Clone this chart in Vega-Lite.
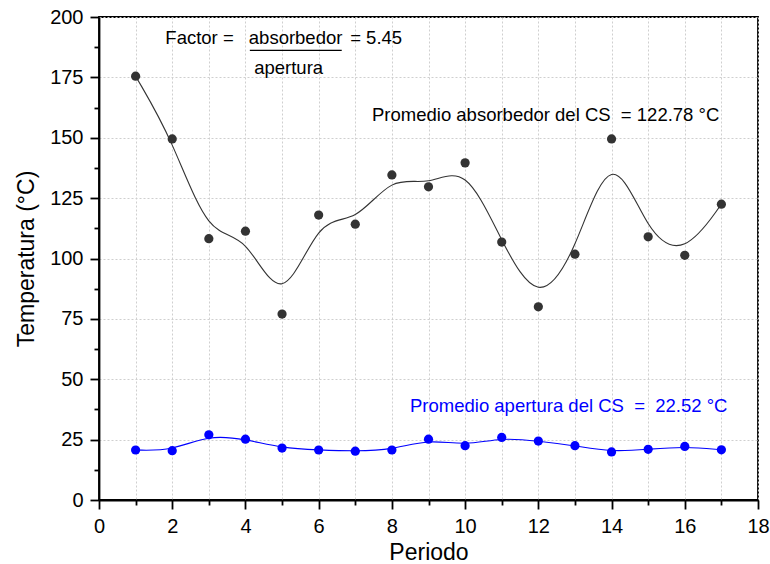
{
  "$schema": "https://vega.github.io/schema/vega-lite/v6.json",
  "width": 659,
  "height": 483,
  "autosize": {"type": "none"},
  "padding": {"left": 99, "top": 17, "right": 12, "bottom": 64},
  "background": "white",
  "config": {
    "font": "Liberation Sans",
    "view": {"stroke": "black", "strokeWidth": 1.8},
    "axis": {
      "domainColor": "black",
      "domainWidth": 1.8,
      "tickColor": "black",
      "tickWidth": 1.8,
      "labelColor": "black",
      "labelFont": "Liberation Sans",
      "labelFontSize": 20,
      "titleFont": "Liberation Sans",
      "titleFontSize": 23,
      "titleFontWeight": "normal",
      "titleColor": "black",
      "gridColor": "#cfcfcf",
      "gridDash": [2, 2],
      "gridWidth": 1
    }
  },
  "datasets": {
    "temps": [
      {"periodo": 1, "temp": 175.5, "serie": "absorbedor"},
      {"periodo": 2, "temp": 149.5, "serie": "absorbedor"},
      {"periodo": 3, "temp": 108.2, "serie": "absorbedor"},
      {"periodo": 4, "temp": 111.3, "serie": "absorbedor"},
      {"periodo": 5, "temp": 77.0, "serie": "absorbedor"},
      {"periodo": 6, "temp": 118.0, "serie": "absorbedor"},
      {"periodo": 7, "temp": 114.2, "serie": "absorbedor"},
      {"periodo": 8, "temp": 134.6, "serie": "absorbedor"},
      {"periodo": 9, "temp": 129.7, "serie": "absorbedor"},
      {"periodo": 10, "temp": 139.6, "serie": "absorbedor"},
      {"periodo": 11, "temp": 106.8, "serie": "absorbedor"},
      {"periodo": 12, "temp": 80.0, "serie": "absorbedor"},
      {"periodo": 13, "temp": 101.8, "serie": "absorbedor"},
      {"periodo": 14, "temp": 149.5, "serie": "absorbedor"},
      {"periodo": 15, "temp": 109.0, "serie": "absorbedor"},
      {"periodo": 16, "temp": 101.3, "serie": "absorbedor"},
      {"periodo": 17, "temp": 122.5, "serie": "absorbedor"},
      {"periodo": 1, "temp": 20.7, "serie": "apertura"},
      {"periodo": 2, "temp": 20.4, "serie": "apertura"},
      {"periodo": 3, "temp": 27.0, "serie": "apertura"},
      {"periodo": 4, "temp": 25.2, "serie": "apertura"},
      {"periodo": 5, "temp": 21.5, "serie": "apertura"},
      {"periodo": 6, "temp": 20.7, "serie": "apertura"},
      {"periodo": 7, "temp": 20.2, "serie": "apertura"},
      {"periodo": 8, "temp": 20.7, "serie": "apertura"},
      {"periodo": 9, "temp": 25.2, "serie": "apertura"},
      {"periodo": 10, "temp": 22.5, "serie": "apertura"},
      {"periodo": 11, "temp": 25.9, "serie": "apertura"},
      {"periodo": 12, "temp": 24.4, "serie": "apertura"},
      {"periodo": 13, "temp": 22.5, "serie": "apertura"},
      {"periodo": 14, "temp": 19.9, "serie": "apertura"},
      {"periodo": 15, "temp": 21.0, "serie": "apertura"},
      {"periodo": 16, "temp": 22.2, "serie": "apertura"},
      {"periodo": 17, "temp": 20.8, "serie": "apertura"}
    ]
  },
  "encoding": {
    "x": {
      "field": "periodo",
      "type": "quantitative",
      "scale": {"domain": [0, 18], "nice": false},
      "axis": {
        "title": "Periodo",
        "values": [0, 1, 2, 3, 4, 5, 6, 7, 8, 9, 10, 11, 12, 13, 14, 15, 16, 17, 18],
        "labelExpr": "datum.value % 2 === 0 ? datum.label : ''",
        "tickSize": {"condition": {"test": "datum.value % 2 === 0", "value": 9}, "value": 5},
        "labelPadding": 7,
        "labelFlush": false,
        "labelOverlap": false,
        "titlePadding": 5,
        "grid": true
      }
    },
    "y": {
      "field": "temp",
      "type": "quantitative",
      "scale": {"domain": [0, 200], "nice": false},
      "axis": {
        "title": "Temperatura (°C)",
        "values": [0, 12.5, 25, 37.5, 50, 62.5, 75, 87.5, 100, 112.5, 125, 137.5, 150, 162.5, 175, 187.5, 200],
        "labelExpr": "datum.value % 25 === 0 ? datum.label : ''",
        "tickSize": {"condition": {"test": "datum.value % 25 === 0", "value": 9}, "value": 5},
        "gridOpacity": {"condition": {"test": "datum.value % 25 === 0", "value": 1}, "value": 0},
        "labelPadding": 7,
        "labelFlush": false,
        "labelOverlap": false,
        "titlePadding": 11,
        "grid": true
      }
    }
  },
  "layer": [
    {
      "data": {"name": "temps"},
      "mark": {"type": "line", "interpolate": "basis", "strokeWidth": 1.1},
      "encoding": {
        "color": {"field": "serie", "type": "nominal", "scale": {"domain": ["absorbedor", "apertura"], "range": ["#333333", "#0000ff"]}, "legend": null}
      }
    },
    {
      "data": {"name": "temps"},
      "mark": {"type": "circle", "size": 85, "opacity": 1},
      "encoding": {
        "color": {"field": "serie", "type": "nominal", "scale": {"domain": ["absorbedor", "apertura"], "range": ["#333333", "#0000ff"]}, "legend": null}
      }
    },
    {
      "data": {"values": [
        {"periodo": 5.37, "temp": 188.7, "texto": "absorbedor"},
        {"periodo": 5.18, "temp": 176.6, "texto": "apertura"},
        {"periodo": 12.2, "temp": 156.8, "texto": "Promedio absorbedor del CS \u00a0= 122.78 °C"}
      ]},
      "mark": {"type": "text", "align": "center", "baseline": "alphabetic", "fontSize": 18.5, "color": "black", "font": "Liberation Sans"},
      "encoding": {"text": {"field": "texto"}}
    },
    {
      "data": {"values": [
        {"periodo": 3.68, "temp": 188.7, "texto": "Factor ="}
      ]},
      "mark": {"type": "text", "align": "right", "baseline": "alphabetic", "fontSize": 18.5, "color": "black", "font": "Liberation Sans"},
      "encoding": {"text": {"field": "texto"}}
    },
    {
      "data": {"values": [
        {"periodo": 6.86, "temp": 188.7, "texto": "= 5.45"}
      ]},
      "mark": {"type": "text", "align": "left", "baseline": "alphabetic", "fontSize": 18.5, "color": "black", "font": "Liberation Sans"},
      "encoding": {"text": {"field": "texto"}}
    },
    {
      "data": {"values": [
        {"periodo": 12.83, "temp": 36.5, "texto": "Promedio apertura del CS \u00a0= \u00a022.52 °C"}
      ]},
      "mark": {"type": "text", "align": "center", "baseline": "alphabetic", "fontSize": 18.5, "color": "#0000ff", "font": "Liberation Sans"},
      "encoding": {"text": {"field": "texto"}}
    },
    {
      "data": {"values": [
        {"periodo": 4.12, "fin": 6.63, "temp": 186.2}
      ]},
      "mark": {"type": "rule", "color": "black", "strokeWidth": 1.3},
      "encoding": {"x2": {"field": "fin"}}
    }
  ]
}
